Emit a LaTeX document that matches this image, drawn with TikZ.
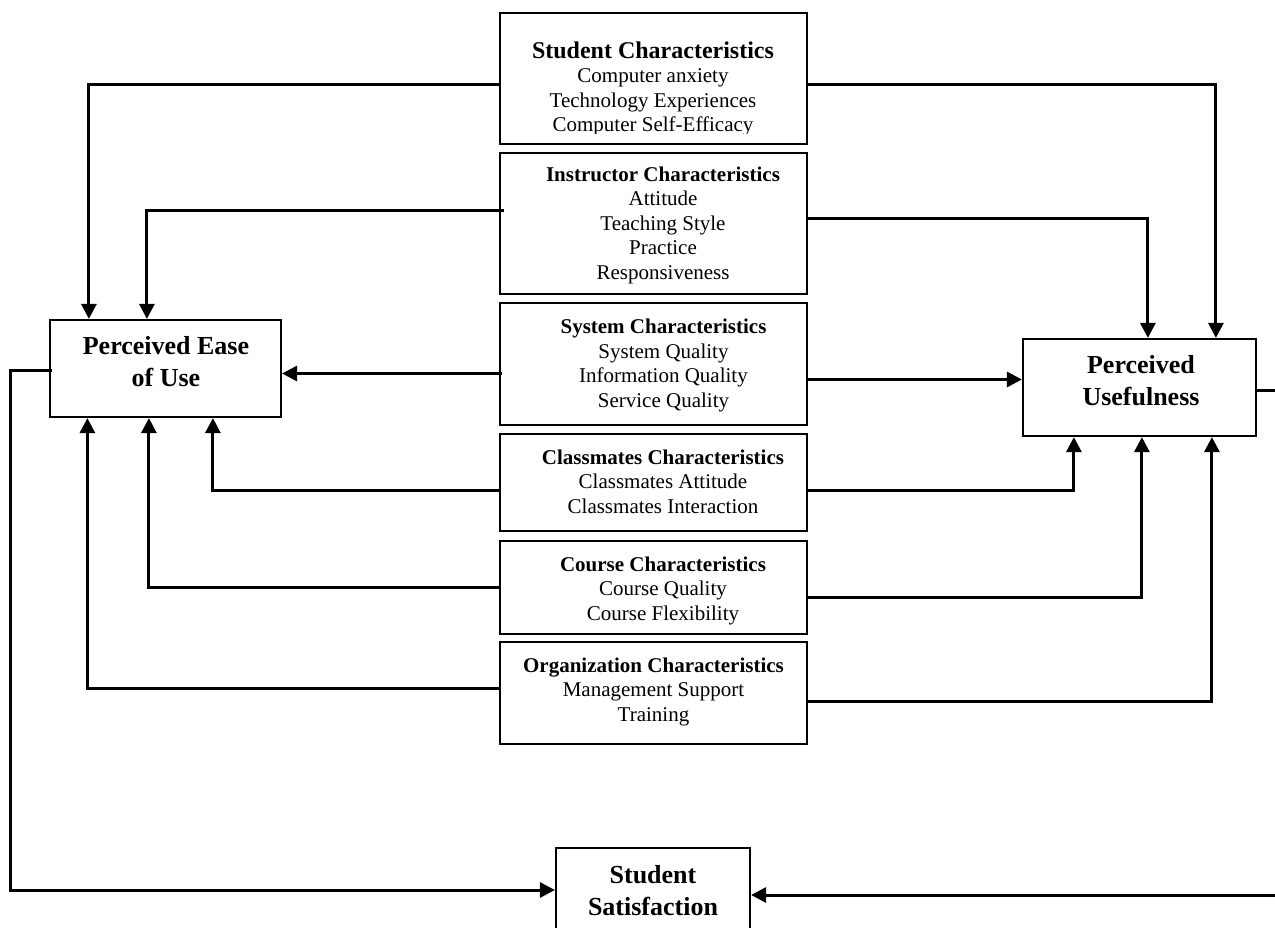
\documentclass[tikz,border=0pt]{standalone}
\usepackage{fontspec}
\setmainfont{Liberation Serif}
\usetikzlibrary{arrows.meta}
\begin{document}
\begin{tikzpicture}[x=1pt,y=-1pt,
  box/.style={draw, line width=2.2pt, inner sep=0pt, minimum width=307pt},
  bigbox/.style={draw, line width=2.2pt, inner sep=0pt},
  txt/.style={align=center, inner sep=0pt, anchor=base, font=\fontsize{21}{24.5}\selectfont},
  bigtxt/.style={align=center, inner sep=0pt, anchor=base, font=\fontsize{26}{31.5}\selectfont\bfseries},
  conn/.style={line width=3pt},
  arr/.style={conn, -{Triangle[length=15pt,width=15pt]}}]
\clip (0,0) rectangle (1275,928);
\fill[white] (0,0) rectangle (1275,928);

% central boxes
\node[box, minimum height=131pt] (stu) at (653.5,78.5) {};
\node[box, minimum height=141pt] (ins) at (653.5,223.5) {};
\node[box, minimum height=122pt] (sys) at (653.5,364) {};
\node[box, minimum height=97pt]  (cls) at (653.5,482.5) {};
\node[box, minimum height=93pt]  (crs) at (653.5,587.5) {};
\node[box, minimum height=102pt] (org) at (653.5,693) {};

% outcome boxes
\node[bigbox, minimum width=231pt, minimum height=97pt] (peu) at (165.5,368.5) {};
\node[bigbox, minimum width=233pt, minimum height=97pt] (pu) at (1139.5,387.5) {};
\node[bigbox, minimum width=194pt, minimum height=96pt] (sat) at (653,896) {};

% texts (base anchor = baseline of the last line)
\begin{scope}
\clip (500,10) rectangle (807,133.5);
\node[txt] (stuT) at (653,131.7) {{\fontsize{24}{24.5}\selectfont\bfseries Student Characteristics}\\Computer anxiety\\Technology Experiences\\Computer Self-Efficacy};
\end{scope}
\node[txt] (insT) at (663,279.3) {\textbf{Instructor Characteristics}\\Attitude\\Teaching Style\\Practice\\Responsiveness};
\node[txt] (sysT) at (663.5,407.3) {\textbf{System Characteristics}\\System Quality\\Information Quality\\Service Quality};
\node[txt] (clsT) at (663,513.3) {\textbf{Classmates Characteristics}\\Classmates Attitude\\Classmates Interaction};
\node[txt] (crsT) at (663,620) {\textbf{Course Characteristics}\\Course Quality\\Course Flexibility};
\node[txt] (orgT) at (653.5,721) {\textbf{Organization Characteristics}\\Management Support\\Training};
\node[bigtxt] (peuT) at (166,386) {Perceived Ease\\of Use};
\node[bigtxt] (puT) at (1141,405) {Perceived\\Usefulness};
\node[bigtxt] (satT) at (653,915) {Student\\Satisfaction};

% connectors to Perceived Ease of Use
\draw[arr] ([yshift=-6.5pt]stu.west) -| ([xshift=40pt]peu.north west);
\draw[arr] ([xshift=5pt,yshift=12.5pt]ins.west) -| ([xshift=98pt]peu.north west);
\draw[arr] ([xshift=3pt,yshift=-9.5pt]sys.west) coordinate (sysL) -- (sysL -| peu.east);
\draw[arr] ([yshift=-7.5pt]cls.west) -| ([xshift=164pt]peu.south west);
\draw[arr] ([yshift=0.5pt]crs.west) -| ([xshift=100pt]peu.south west);
\draw[arr] ([yshift=5pt]org.west) -| ([xshift=38.5pt]peu.south west);

% connectors to Perceived Usefulness
\draw[arr] ([yshift=-6.5pt]stu.east) -| ([xshift=194pt]pu.north west);
\draw[arr] ([xshift=-2.5pt,yshift=4.5pt]ins.east) -| ([xshift=126pt]pu.north west);
\draw[arr] ([yshift=-15.5pt]sys.east) coordinate (sysR) -- (sysR -| pu.west);
\draw[arr] ([yshift=-7.5pt]cls.east) -| ([xshift=52pt]pu.south west);
\draw[arr] ([yshift=-9.5pt]crs.east) -| ([xshift=120pt]pu.south west);
\draw[arr] ([yshift=-8pt]org.east) -| ([xshift=190pt]pu.south west);

% connectors to Student Satisfaction
\draw[arr] ([xshift=3pt,yshift=-1.5pt]peu.west) -- ++(-41,0) |- ([yshift=6pt]sat.west);
\draw[arr] ([yshift=-2.5pt]pu.east) -- ++(40,0) |- ([yshift=1pt]sat.east);
\end{tikzpicture}
\end{document}
